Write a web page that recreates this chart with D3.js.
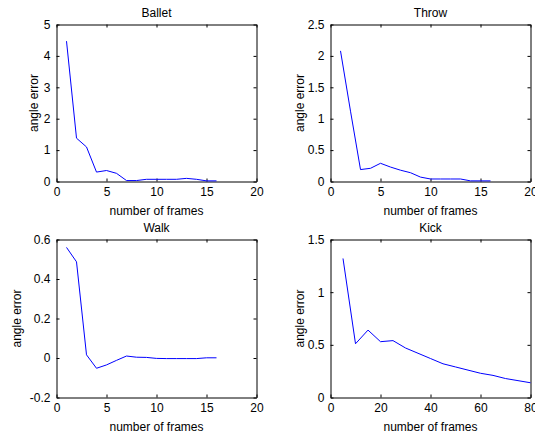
<!DOCTYPE html>
<html lang="en">
	<head>
		<meta charset="utf-8">
		<title>Angle error vs number of frames</title>
		<script type="text/javascript" src="https://cdn.jsdelivr.net/npm/d3@7"></script>
		<style type="text/css">
			html, body {
				margin: 0;
				padding: 0;
				background-color: white;
			}
			text {
				font-family: "Liberation Sans", Arial, sans-serif;
				fill: #000;
			}
		</style>
	</head>
	<body>
		<script type="text/javascript">

			//Width and height
			var w = 535;
			var h = 436;

			//Data
			var frames16 = [1, 2, 3, 4, 5, 6, 7, 8, 9, 10, 11, 12, 13, 14, 15, 16];
			var balletErr = [4.47, 1.38, 1.1, 0.3, 0.35, 0.26, 0.03, 0.03, 0.07, 0.07, 0.07, 0.07, 0.1, 0.07, 0.02, 0.02];
			var throwErr = [2.08, 1.12, 0.19, 0.21, 0.29, 0.23, 0.18, 0.14, 0.07, 0.04, 0.04, 0.04, 0.04, 0.01, 0.01, 0.01];
			var walkErr = [0.56, 0.487, 0.016, -0.052, -0.035, -0.012, 0.01, 0.004, 0.003, -0.002, -0.003, -0.003, -0.003, -0.003, 0.001, 0.001];
			var kickFrames = [5, 10, 15, 20, 25, 30, 35, 40, 45, 50, 55, 60, 65, 70, 75, 80];
			var kickErr = [1.32, 0.51, 0.64, 0.53, 0.54, 0.47, 0.42, 0.37, 0.32, 0.29, 0.26, 0.23, 0.21, 0.18, 0.16, 0.14];

			//Axis settings for each panel
			var titles = ["Ballet", "Throw", "Walk", "Kick"];
			var xDomains = [[0, 20], [0, 20], [0, 20], [0, 80]];
			var yDomains = [[0, 5], [0, 2.5], [-0.2, 0.6], [0, 1.5]];
			var xTicks = [[0, 5, 10, 15, 20], [0, 5, 10, 15, 20], [0, 5, 10, 15, 20], [0, 20, 40, 60, 80]];
			var yTicks = [[0, 1, 2, 3, 4, 5], [0, 0.5, 1, 1.5, 2, 2.5], [-0.2, 0, 0.2, 0.4, 0.6], [0, 0.5, 1, 1.5]];

			//ylabel sits left of the tick labels, so it moves with their width
			var panels = [
				{ x: frames16, y: balletErr, left: 56.5, top: 24.5, width: 200, height: 157, ylab: -19 },
				{ x: frames16, y: throwErr, left: 330.5, top: 24.5, width: 200, height: 157, ylab: -27 },
				{ x: frames16, y: walkErr, left: 56.5, top: 239.5, width: 200, height: 158, ylab: -36 },
				{ x: kickFrames, y: kickErr, left: 330.5, top: 239.5, width: 200, height: 158, ylab: -27 }
			];

			var fmt = function(v) { return String(Math.round(v * 10) / 10); };

			//Create SVG element
			var svg = d3.select("body")
						.append("svg")
						.attr("width", w)
						.attr("height", h);

			panels.forEach(function(p, i) {

				var g = svg.append("g")
						   .attr("transform", "translate(" + p.left + "," + p.top + ")");

				var x = d3.scaleLinear().domain(xDomains[i]).range([0, p.width]);
				var y = d3.scaleLinear().domain(yDomains[i]).range([p.height, 0]);

				//Inward ticks on all four sides, like MATLAB's box
				g.append("g")
				 .attr("transform", "translate(0," + p.height + ")")
				 .call(d3.axisBottom(x).tickValues(xTicks[i]).tickFormat(fmt).tickSizeInner(-3).tickSizeOuter(0).tickPadding(6));
				g.append("g")
				 .call(d3.axisTop(x).tickValues(xTicks[i]).tickFormat("").tickSizeInner(-3).tickSizeOuter(0));
				g.append("g")
				 .call(d3.axisLeft(y).tickValues(yTicks[i]).tickFormat(fmt).tickSizeInner(-3).tickSizeOuter(0).tickPadding(6));
				g.append("g")
				 .attr("transform", "translate(" + p.width + ",0)")
				 .call(d3.axisRight(y).tickValues(yTicks[i]).tickFormat("").tickSizeInner(-3).tickSizeOuter(0));

				g.selectAll(".domain").attr("stroke", "#000");
				g.selectAll(".tick line").attr("stroke", "#000");
				g.selectAll(".tick text")
				 .attr("font-size", "12px")
				 .attr("font-family", "'Liberation Sans', Arial, sans-serif");

				//Data line
				var line = d3.line()
							 .x(function(d, k) { return x(p.x[k]); })
							 .y(function(d) { return y(d); });

				g.append("path")
				 .datum(p.y)
				 .attr("d", line)
				 .attr("fill", "none")
				 .attr("stroke", "rgb(0,0,255)")
				 .attr("stroke-width", 1);

				//Title
				g.append("text")
				 .attr("x", p.width / 2)
				 .attr("y", -8)
				 .attr("text-anchor", "middle")
				 .attr("font-size", "12px")
				 .text(titles[i]);

				//X label
				g.append("text")
				 .attr("x", p.width / 2)
				 .attr("y", p.height + 33)
				 .attr("text-anchor", "middle")
				 .attr("font-size", "12px")
				 .text("number of frames");

				//Y label
				g.append("text")
				 .attr("transform", "translate(" + p.ylab + "," + (p.height / 2) + ") rotate(-90)")
				 .attr("text-anchor", "middle")
				 .attr("font-size", "12px")
				 .text("angle error");
			});

		</script>
	</body>
</html>
